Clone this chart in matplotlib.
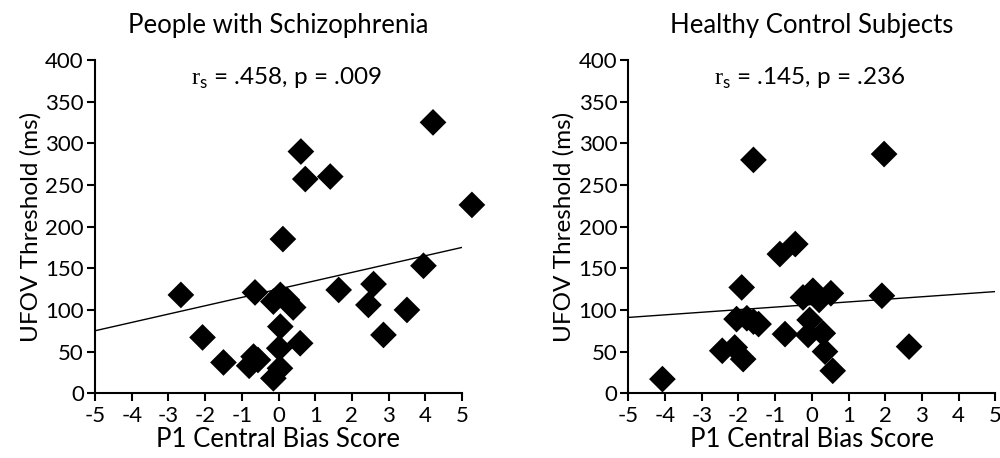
import numpy as np
import matplotlib
matplotlib.use("Agg")
import matplotlib.pyplot as plt

plt.rcParams['font.family'] = ['Lato', 'DejaVu Sans']
plt.rcParams['mathtext.fontset'] = 'custom'
plt.rcParams['mathtext.rm'] = 'Liberation Serif'
plt.rcParams['mathtext.sf'] = 'Lato'
plt.rcParams['axes.unicode_minus'] = False

# People with Schizophrenia
scz_x = [-2.66, -2.07, -1.50, -0.80, -0.68, -0.56, -0.64, -0.14, 0.04, 0.02,
         0.05, -0.14, 0.05, 0.23, 0.40, 0.12, 0.59, 0.61, 0.73, 1.41,
         1.64, 2.45, 2.59, 2.86, 3.50, 3.95, 4.21, 5.27]
scz_y = [118, 67, 37, 33, 44, 40, 121, 18, 30, 54,
         80, 110, 118, 112, 103, 185, 60, 290, 257, 260,
         124, 106, 131, 70, 100, 153, 325, 226]

# Healthy Control Subjects
hc_x = [-4.07, -2.44, -2.10, -1.87, -1.91, -2.05, -1.77, -1.59, -1.45, -1.59,
        -0.87, -0.45, -0.73, -0.10, -0.06, -0.24, 0.03, 0.20, 0.52, 0.30,
        0.36, 0.57, 1.97, 1.91, 2.65]
hc_y = [17, 51, 55, 41, 127, 89, 90, 86, 83, 280,
        167, 179, 71, 70, 88, 115, 123, 112, 120, 72,
        50, 27, 287, 117, 56]

# fitted lines (intercept, slope)
scz_fit = (125.0, 10.0)
hc_fit = (106.5, 3.1)

panels = [
    ("People with Schizophrenia", scz_x, scz_y, scz_fit, ".458", ".009", 0.095, 0.22),
    ("Healthy Control Subjects", hc_x, hc_y, hc_fit, ".145", ".236", 0.6283, -0.05),
]

fig = plt.figure(figsize=(10, 4.58), dpi=100)

for title, xs, ys, fit, rs, p, left, tx in panels:
    ax = fig.add_axes([left, 0.1413, 0.367, 0.728])
    ax.set_xlim(-5, 5)
    ax.set_ylim(0, 400)
    xx = np.array([-5, 5])
    ax.plot(xx, fit[0] + fit[1] * xx, color='black', lw=1.0, zorder=2)
    ax.scatter(xs, ys, marker='D', s=185, color='black', edgecolors='none',
               zorder=3, clip_on=False)
    ax.set_xticks(range(-5, 6))
    ax.set_yticks(range(0, 401, 50))
    for side in ('top', 'right'):
        ax.spines[side].set_visible(False)
    for side in ('left', 'bottom'):
        ax.spines[side].set_linewidth(1.5)
    ax.tick_params(axis='both', direction='out', length=6, width=1.5,
                   labelsize=16, colors='black')
    ax.tick_params(axis='x', pad=3)
    ax.tick_params(axis='y', pad=2)
    ax.set_xlabel("P1 Central Bias Score", fontsize=18.5, labelpad=1)
    ax.set_ylabel("UFOV Threshold (ms)", fontsize=17.5, labelpad=3)
    ax.set_title(title, fontsize=18.5, pad=19)
    ax.text(tx, 378, r"$\mathrm{r}_{\mathsf{s}}$" + " = %s, p = %s" % (rs, p),
            fontsize=17.5, ha='center', va='center')

fig.savefig("out.png", dpi=100)
